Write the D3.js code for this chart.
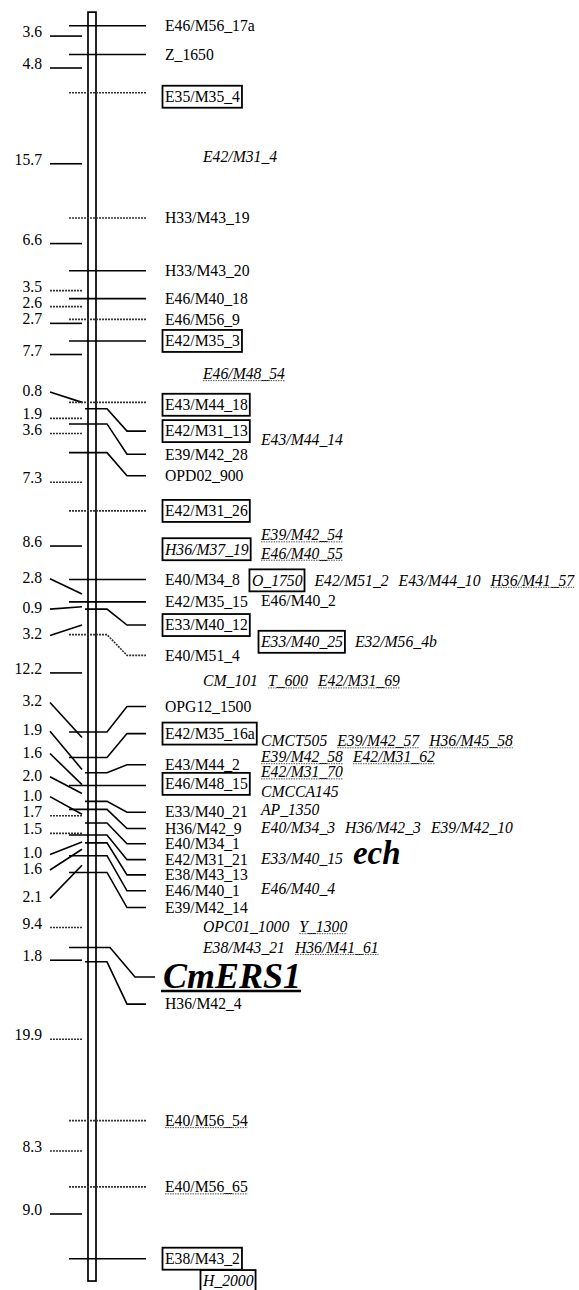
<!DOCTYPE html>
<html>
<head>
<meta charset="utf-8">
<script src="https://cdn.jsdelivr.net/npm/d3@7"></script>
<style>
body { margin: 0; background: #fff; }
svg text { font-family: "Liberation Serif", "Times New Roman", serif; }
</style>
</head>
<body>
<div id="map"></div>
<script>
// distances (cM) between neighbouring mapped markers, top to bottom
var intervals = [3.6, 4.8, 15.7, 6.6, 3.5, 2.6, 2.7, 7.7, 0.8, 1.9, 3.6, 7.3, 8.6, 2.8, 0.9, 3.2,
  12.2, 3.2, 1.9, 1.6, 2.0, 1.0, 1.7, 1.5, 1.0, 1.6, 2.1, 9.4, 1.8, 19.9, 8.3, 9.0];

// where each distance figure points on the bar, and where its text sits (cM)
var intervalTickAt = [1.3, 5.3, 17.3, 27.3, 33.2, 35.2, 37.3, 41.2, 47.2, 49.2, 51.1, 57.2, 65.2, 71.2, 72.8, 75.1,
  81.1, 89.2, 93.2, 95.1, 96.2, 98.8, 99.0, 101.2, 102.3, 103.2, 105.2, 113.0, 117.1, 127.0, 141.0, 148.9];
var intervalLabelAt = [null, null, null, null, null, null, null, null, 45.9, null, null, null, null, 69.3, 73.1, 76.4,
  null, 84.8, 88.4, 91.2, 94.1, 96.6, null, null, 103.85, 105.8, 109.35, null, null, null, null, null];

// mapped markers, in order along the linkage group
var markerNames = ["E46/M56_17a", "Z_1650", "E35/M35_4", "H33/M43_19", "H33/M43_20", "E46/M40_18",
  "E46/M56_9", "E42/M35_3", "E43/M44_18", "E42/M31_13", "E39/M42_28", "OPD02_900", "E42/M31_26",
  "E40/M34_8", "E42/M35_15", "E33/M40_12", "E40/M51_4", "OPG12_1500", "E42/M35_16a", "E43/M44_2",
  "E46/M48_15", "E33/M40_21", "H36/M42_9", "E40/M34_1", "E42/M31_21", "E38/M43_13", "E46/M40_1",
  "E39/M42_14", "CmERS1", "H36/M42_4", "E40/M56_54", "E40/M56_65", "E38/M43_2"];

// label position (cM) where the name had to be moved off its locus
var markerLabelAt = [null, null, 8.9, null, null, null, null, null, 47.5, 50.8, 53.7, 56.4, null,
  null, null, 75.1, 78.9, 85.3, 88.7, 92.6, 95.0, 98.55, 100.6, 102.5, 104.5, 106.4, 108.4,
  110.5, 119.2, 122.6, null, null, null];

// placed (unlinked) markers, listed by row
var extraRowAt = [16.45, 43.6, 51.9, 63.8, 65.6, 66.1, 69.5, 72.0, 77.2, 82.1, 89.6, 91.6, 93.5,
  96.0, 98.3, 100.5, 104.4, 108.1, 112.9, 115.5, 157.3];
var extraRowNames = [
  ["E42/M31_4"],
  ["E46/M48_54"],
  ["E43/M44_14"],
  ["E39/M42_54"],
  ["H36/M37_19"],
  ["E46/M40_55"],
  ["O_1750", "E42/M51_2", "E43/M44_10", "H36/M41_57"],
  ["E46/M40_2"],
  ["E33/M40_25", "E32/M56_4b"],
  ["CM_101", "T_600", "E42/M31_69"],
  ["CMCT505", "E39/M42_57", "H36/M45_58"],
  ["E39/M42_58", "E42/M31_62"],
  ["E42/M31_70"],
  ["CMCCA145"],
  ["AP_1350"],
  ["E40/M34_3", "H36/M42_3", "E39/M42_10"],
  ["E33/M40_15", "ech"],
  ["E46/M40_4"],
  ["OPC01_1000", "Y_1300"],
  ["E38/M43_21", "H36/M41_61"],
  ["H_2000"]
];
var extraRowCol = ["n", "n", "s", "s", "m", "s", "a", "s", "s", "n", "s", "s", "s",
  "s", "s", "s", "s", "s", "n", "n", "n"];

var boxedNames = ["E35/M35_4", "E42/M35_3", "E43/M44_18", "E42/M31_13", "E42/M31_26", "E33/M40_12",
  "E42/M35_16a", "E46/M48_15", "E38/M43_2", "H36/M37_19", "O_1750", "E33/M40_25", "H_2000"];
var underlinedNames = ["E46/M48_54", "E39/M42_54", "E46/M40_55", "H36/M41_57", "T_600", "E42/M31_69",
  "E39/M42_57", "H36/M45_58", "E39/M42_58", "E42/M31_62", "E42/M31_70", "Y_1300", "H36/M41_61",
  "E40/M56_54", "E40/M56_65"];
var uprightExtras = ["E46/M40_2"];
var traitNames = ["CmERS1", "ech"];

// lines that print light in the scan
var faintMarkers = ["E35/M35_4", "H33/M43_19", "E46/M56_9", "E43/M44_18", "E42/M31_26", "E40/M51_4",
  "E40/M56_54", "E40/M56_65"];
var faintIntervals = [4, 5, 9, 10, 11, 22, 23, 27, 29, 30];

var W = 579, H = 1290, FS = 15.7;
var svg = d3.select("#map").append("svg").attr("width", W).attr("height", H);

var cum = [0];
intervals.forEach(function(d, i) { cum.push(Math.round((cum[i] + d) * 10) / 10); });

var y = d3.scaleLinear().domain([0, d3.sum(intervals)]).range([25.7, 1258.7]);
var line = d3.line();

var markers = markerNames.map(function(name, i) {
  return {name: name, cM: cum[i], labelAt: markerLabelAt[i] == null ? cum[i] : markerLabelAt[i]};
});
markers.forEach(function(m, i) {
  var prev = markers[i - 1];
  m.short = !!prev && (m.cM - prev.cM) <= 2.05 && !prev.short;
});

// chromosome bar
svg.append("rect")
  .attr("x", 88).attr("width", 8)
  .attr("y", y(-1.7)).attr("height", y(157.3) - y(-1.7))
  .attr("fill", "#fff").attr("stroke", "#000").attr("stroke-width", 1.7);

// distance ticks on the left
var ivs = intervals.map(function(d, i) {
  return {v: d, i: i, tick: intervalTickAt[i], label: intervalLabelAt[i] == null ? intervalTickAt[i] : intervalLabelAt[i]};
});
var left = svg.append("g");
left.selectAll("path").data(ivs).enter().append("path")
  .attr("d", function(d) { return line([[50, y(d.label)], [82, y(d.tick)]]); })
  .attr("fill", "none")
  .attr("stroke", function(d) { return faintIntervals.indexOf(d.i) >= 0 ? "#333" : "#000"; })
  .attr("stroke-dasharray", function(d) { return faintIntervals.indexOf(d.i) >= 0 ? "2,1" : null; })
  .attr("stroke-width", 1.6);
left.selectAll("text").data(ivs).enter().append("text")
  .attr("x", 42)
  .attr("y", function(d) { return y(d.label) + (d.label === d.tick ? 1 : 4); })
  .attr("text-anchor", "end")
  .attr("font-size", FS)
  .text(function(d) { return d.v.toFixed(1); });

// marker lines and names
function markerPts(m) {
  var y0 = y(m.cM), y1 = y(m.labelAt), x0 = m.short ? 85 : 69;
  if (Math.abs(y1 - y0) < 5) return [[x0, y0], [146, y0]];
  var big = traitNames.indexOf(m.name) >= 0;
  return [[x0, y0], [big ? 110 : 107, y0], [big ? 135 : 127, y1], [big ? 155 : 146, y1]];
}
var mk = svg.append("g");
mk.selectAll("path").data(markers).enter().append("path")
  .attr("d", function(d) { return line(markerPts(d)); })
  .attr("fill", "none")
  .attr("stroke", function(d) { return faintMarkers.indexOf(d.name) >= 0 ? "#333" : "#000"; })
  .attr("stroke-dasharray", function(d) { return faintMarkers.indexOf(d.name) >= 0 ? "2,1" : null; })
  .attr("stroke-width", 1.6);

function addLabel(g, name, x, cy, italic) {
  var trait = traitNames.indexOf(name) >= 0;
  var fs = trait ? (name === "CmERS1" ? 36 : 33) : FS;
  var base = name === "CmERS1" ? cy + 11.5 : cy + 5.3;
  var t = g.append("text")
    .attr("x", x).attr("y", base)
    .attr("font-size", fs)
    .attr("font-style", italic || trait ? "italic" : "normal")
    .attr("font-weight", trait ? "bold" : "normal")
    .text(name);
  var w = t.node().getComputedTextLength();
  if (boxedNames.indexOf(name) >= 0) {
    g.append("rect")
      .attr("x", x - 2.5).attr("y", cy - 11)
      .attr("width", w + 4.5).attr("height", 22)
      .attr("fill", "none").attr("stroke", "#000").attr("stroke-width", 1.8);
    w += 2;
  }
  if (underlinedNames.indexOf(name) >= 0) {
    g.append("line")
      .attr("x1", x).attr("x2", x + w)
      .attr("y1", cy + 7).attr("y2", cy + 7)
      .attr("stroke", "#555").attr("stroke-width", 1).attr("stroke-dasharray", "1.5,1");
  }
  if (name === "CmERS1") {
    g.append("line")
      .attr("x1", x - 2).attr("x2", x + w)
      .attr("y1", cy + 14).attr("y2", cy + 14)
      .attr("stroke", "#000").attr("stroke-width", 2.5);
  }
  return w;
}

var labels = svg.append("g");
markers.forEach(function(m) {
  var x = traitNames.indexOf(m.name) >= 0 ? 163 : 165;
  m.width = addLabel(labels, m.name, x, y(m.labelAt), false);
});

var colX = {m: 165, n: 203, s: 261};
extraRowNames.forEach(function(names, r) {
  var at = extraRowAt[r], x;
  if (extraRowCol[r] === "a") {
    var host = markers.filter(function(m) { return Math.abs(m.labelAt - at) < 0.5; })[0];
    x = 165 + host.width + 12;
  } else {
    x = colX[extraRowCol[r]];
  }
  names.forEach(function(name) {
    var w = addLabel(labels, name, x, y(at), uprightExtras.indexOf(name) < 0);
    x += w + 10;
  });
});
</script>
</body>
</html>
